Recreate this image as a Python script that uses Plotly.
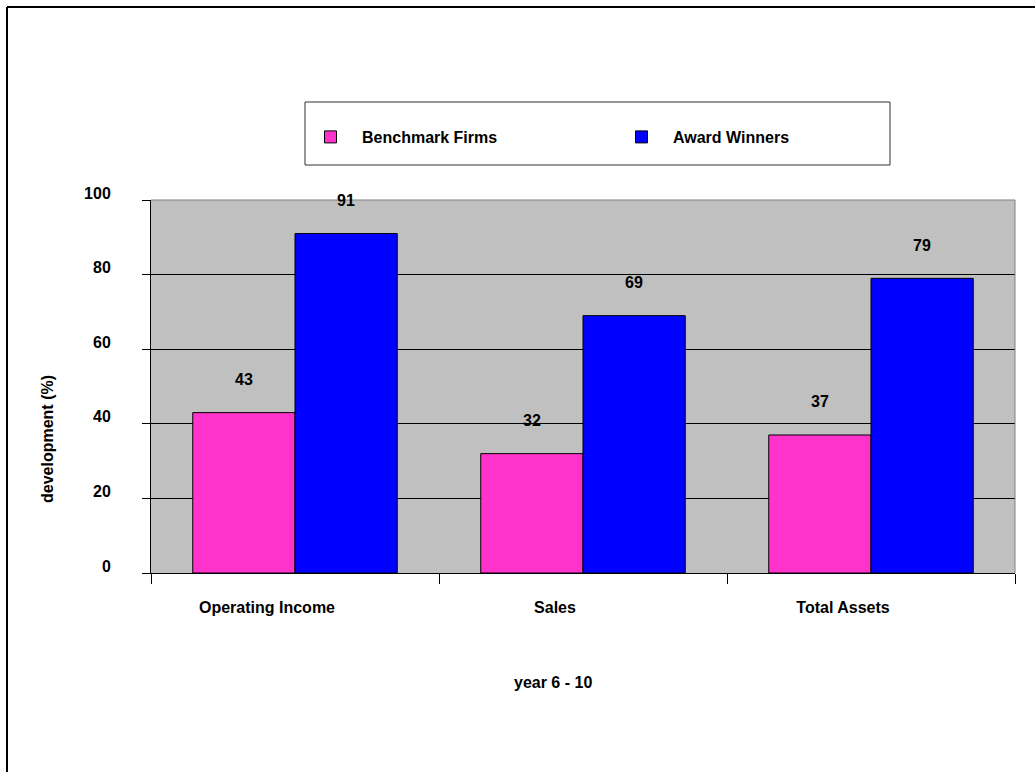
import plotly.graph_objects as go

categories = ["Operating Income", "Sales", "Total Assets"]
benchmark = [43, 32, 37]
award = [91, 69, 79]
series_names = ["Benchmark Firms", "Award Winners"]
y_ticks = [0, 20, 40, 60, 80, 100]

W, H = 1035, 772
L, R, T, B = 151, 20, 200, 199
PW, PH = W - L - R, H - T - B

def px(x):
    return (x - L) / PW

def py(y):
    return (H - B - y) / PH

FONT = "Liberation Sans, Arial, sans-serif"
fs = 16

fig = go.Figure()
fig.add_trace(go.Bar(x=categories, y=benchmark, name=series_names[0],
                     marker=dict(color="#FF33CC", line=dict(color="black", width=1))))
fig.add_trace(go.Bar(x=categories, y=award, name=series_names[1],
                     marker=dict(color="#0000FF", line=dict(color="black", width=1))))

bar_px = PW / len(categories) * (1 - 0.29) / 2
for vals, sh in ((benchmark, -bar_px / 2), (award, bar_px / 2)):
    for c, v in zip(categories, vals):
        fig.add_annotation(x=c, y=v, xref="x", yref="y", text=str(v), showarrow=False,
                           xshift=sh, yshift=33, xanchor="center", yanchor="middle",
                           font=dict(size=fs, color="black", family=FONT, weight="bold"))

fig.add_annotation(x=px(47), y=py(439), xref="paper", yref="paper", text="development (%)",
                   textangle=-90, showarrow=False, xanchor="center", yanchor="middle",
                   font=dict(size=fs, family=FONT, weight="bold"))
fig.add_annotation(x=px(553), y=py(682), xref="paper", yref="paper", text="year 6 - 10",
                   showarrow=False, xanchor="center", yanchor="middle",
                   font=dict(size=fs, family=FONT, weight="bold"))

shapes = [
    dict(type="line", xref="paper", yref="paper", x0=px(7), y0=py(7), x1=px(1100), y1=py(7),
         line=dict(color="black", width=2)),
    dict(type="line", xref="paper", yref="paper", x0=px(7), y0=py(7), x1=px(7), y1=py(850),
         line=dict(color="black", width=2)),
    dict(type="rect", xref="paper", yref="paper", x0=px(305), x1=px(890), y0=py(165), y1=py(102),
         line=dict(color="#303030", width=1), fillcolor="white", layer="below"),
    dict(type="line", xref="paper", yref="paper", x0=0, x1=1, y0=1, y1=1, line=dict(color="#808080", width=1)),
    dict(type="line", xref="paper", yref="paper", x0=1, x1=1, y0=0, y1=1, line=dict(color="#808080", width=1)),
]

fig.update_layout(
    width=W, height=H,
    margin=dict(l=L, r=R, t=T, b=B, pad=0),
    paper_bgcolor="white", plot_bgcolor="#C0C0C0",
    font=dict(family=FONT, size=fs, color="black", weight="bold"),
    barmode="group", bargap=0.29, bargroupgap=0,
    showlegend=True,
    legend=dict(orientation="h", x=px(299), y=py(137), xanchor="left", yanchor="middle",
                bgcolor="rgba(0,0,0,0)", borderwidth=0, entrywidth=243, entrywidthmode="pixels",
                font=dict(size=fs, family=FONT, weight="bold"), itemwidth=53, traceorder="normal"),
    shapes=shapes,
    xaxis=dict(showline=True, linecolor="black", linewidth=1, ticks="outside", tickson="boundaries",
               ticklen=10, tickcolor="black", showgrid=False, ticklabelstandoff=20, ticklabelshift=-28,
               tickfont=dict(size=fs, family=FONT, weight="bold")),
    yaxis=dict(range=[0, 100], tickvals=y_ticks, showline=True, linecolor="black", linewidth=1,
               ticks="outside", ticklen=8, tickcolor="black", showgrid=True, gridcolor="black",
               gridwidth=1, zeroline=False, ticklabelstandoff=28, ticklabelshift=-7,
               tickfont=dict(size=fs, family=FONT, weight="bold")),
)

fig.write_html("out.html")
